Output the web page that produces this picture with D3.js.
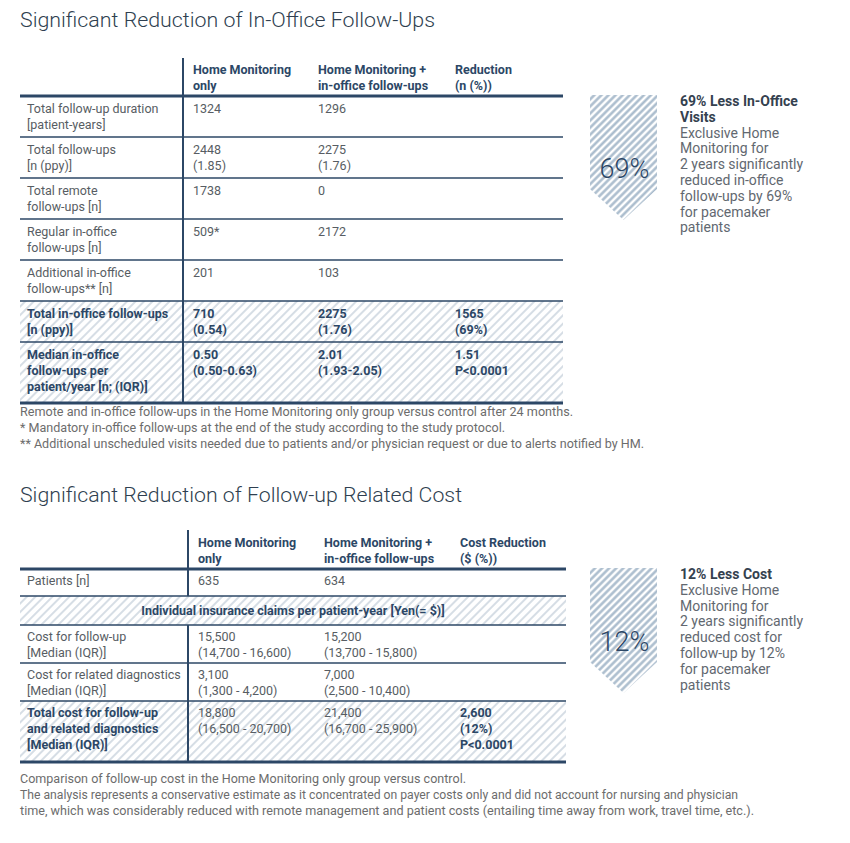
<!DOCTYPE html>
<html><head><meta charset="utf-8">
<script src="https://cdn.jsdelivr.net/npm/d3@7"></script>
<style>html,body{margin:0;padding:0;background:#fff;} svg{display:block;font-family:Roboto,"Noto Sans",sans-serif;}</style>
</head><body><svg id="c" width="850" height="843"></svg>
<script>
// ---------- DATA ----------
const title1 = "Significant Reduction of In-Office Follow-Ups";
const headers1 = ["Home Monitoring\nonly", "Home Monitoring +\nin-office follow-ups", "Reduction\n(n (%))"];
const rowLabels1 = [
  "Total follow-up duration\n[patient-years]",
  "Total follow-ups\n[n (ppy)]",
  "Total remote\nfollow-ups [n]",
  "Regular in-office\nfollow-ups [n]",
  "Additional in-office\nfollow-ups** [n]",
  "Total in-office follow-ups\n[n (ppy)]",
  "Median in-office\nfollow-ups per\npatient/year [n; (IQR)]"
];
const hmOnly1 = ["1324", "2448\n(1.85)", "1738", "509*", "201", "710\n(0.54)", "0.50\n(0.50-0.63)"];
const hmInOffice1 = ["1296", "2275\n(1.76)", "0", "2172", "103", "2275\n(1.76)", "2.01\n(1.93-2.05)"];
const reduction1 = ["", "", "", "", "", "1565\n(69%)", "1.51\nP<0.0001"];
const summaryRows1 = [5, 6];
const notes1 = [
  "Remote and in-office follow-ups in the Home Monitoring only group versus control after 24 months.",
  "* Mandatory in-office follow-ups at the end of the study according to the study protocol.",
  "** Additional unscheduled visits needed due to patients and/or physician request or due to alerts notified by HM."
];
const badge1 = "69%";
const blurbHead1 = ["69% Less In-Office", "Visits"];
const blurbBody1 = ["Exclusive Home", "Monitoring for", "2 years significantly", "reduced in-office", "follow-ups by 69%", "for pacemaker", "patients"];

const title2 = "Significant Reduction of Follow-up Related Cost";
const headers2 = ["Home Monitoring\nonly", "Home Monitoring +\nin-office follow-ups", "Cost Reduction\n($ (%))"];
const rowLabels2 = [
  "Patients [n]",
  "Individual insurance claims per patient-year [Yen(= $)]",
  "Cost for follow-up\n[Median (IQR)]",
  "Cost for related diagnostics\n[Median (IQR)]",
  "Total cost for follow-up\nand related diagnostics\n[Median (IQR)]"
];
const hmOnly2 = ["635", "", "15,500\n(14,700 - 16,600)", "3,100\n(1,300 - 4,200)", "18,800\n(16,500 - 20,700)"];
const hmInOffice2 = ["634", "", "15,200\n(13,700 - 15,800)", "7,000\n(2,500 - 10,400)", "21,400\n(16,700 - 25,900)"];
const reduction2 = ["", "", "", "", "2,600\n(12%)\nP<0.0001"];
const bandRows2 = [1];
const summaryRows2 = [4];
const notes2 = [
  "Comparison of follow-up cost in the Home Monitoring only group versus control.",
  "The analysis represents a conservative estimate as it concentrated on payer costs only and did not account for nursing and physician",
  "time, which was considerably reduced with remote management and patient costs (entailing time away from work, travel time, etc.)."
];
const badge2 = "12%";
const blurbHead2 = ["12% Less Cost"];
const blurbBody2 = ["Exclusive Home", "Monitoring for", "2 years significantly", "reduced cost for", "follow-up by 12%", "for pacemaker", "patients"];

// ---------- STYLE ----------
const NAVY = "#2c4766", TITLE = "#2f3f50", GRAY = "#575d63", NOTE = "#6c6c6c";
const svg = d3.select("#c");
svg.append("rect").attr("width", 850).attr("height", 843).attr("fill", "#fff");
const defs = svg.append("defs");
function hatch(id, size, w, color) {
  const p = defs.append("pattern").attr("id", id).attr("patternUnits", "userSpaceOnUse")
    .attr("width", size).attr("height", size).attr("patternTransform", "rotate(45)");
  p.append("rect").attr("width", size).attr("height", size).attr("fill", "#fff");
  p.append("line").attr("x1", size / 2).attr("x2", size / 2).attr("y1", -1).attr("y2", size + 1)
    .attr("stroke", color).attr("stroke-width", w);
}
hatch("rowHatch", 6, 1.3, "#c0ccd8");
hatch("badgeHatch", 5, 2.4, "#a6b9cb");

function multi(g, str, x, y, lh, attrs) {
  const t = g.append("text").attr("x", x).attr("y", y);
  Object.entries(attrs).forEach(([k, v]) => t.attr(k, v));
  str.split("\n").forEach((s, i) => t.append("tspan").attr("x", x).attr("dy", i ? lh : 0).text(s));
  return t;
}

function drawTable(cfg) {
  const g = svg.append("g");
  const n = cfg.labels.length;
  const tops = [cfg.headLineY];
  cfg.heights.forEach((h, i) => tops.push(tops[i] + h));
  const y = d3.scaleOrdinal().domain(d3.range(n + 1)).range(tops);
  const x = d3.scaleOrdinal().domain(["label", "c1", "c2", "c3"]).range(cfg.colX);

  d3.range(n).forEach(i => {
    if (cfg.summary.includes(i) || cfg.band.includes(i))
      g.append("rect").attr("x", cfg.x0).attr("y", y(i)).attr("width", cfg.x1 - cfg.x0)
        .attr("height", y(i + 1) - y(i)).attr("fill", "url(#rowHatch)");
  });
  cfg.headers.forEach((h, j) => multi(g, h, x(["c1", "c2", "c3"][j]), cfg.headBase, 16,
    {"font-size": 12.5, "font-weight": 700, fill: NAVY}));
  d3.range(n).forEach(i => {
    const base = y(i) + cfg.padTop[i];
    if (cfg.band.includes(i)) {
      g.append("text").attr("x", (cfg.x0 + cfg.x1) / 2).attr("y", base).attr("text-anchor", "middle")
        .attr("font-size", 12.5).attr("font-weight", 700).attr("fill", NAVY).text(cfg.labels[i]);
      return;
    }
    const sum = cfg.summary.includes(i);
    const bold = {"font-size": 12.5, "font-weight": 700, fill: NAVY};
    const reg = {"font-size": 12.5, "font-weight": 400, fill: GRAY};
    multi(g, cfg.labels[i], x("label"), base, 16, sum ? bold : reg);
    multi(g, cfg.c1[i], x("c1"), base, 16, sum && cfg.boldVals ? bold : reg);
    multi(g, cfg.c2[i], x("c2"), base, 16, sum && cfg.boldVals ? bold : reg);
    multi(g, cfg.c3[i], x("c3"), base, 16, sum ? bold : reg);
  });
  const segs = [];
  let start = cfg.divTop;
  d3.range(n).forEach(i => {
    if (cfg.band.includes(i)) { segs.push([start, y(i)]); start = y(i + 1); }
  });
  segs.push([start, y(n)]);
  segs.forEach(s => g.append("line").attr("x1", cfg.divX).attr("x2", cfg.divX).attr("y1", s[0]).attr("y2", s[1])
    .attr("stroke", NAVY).attr("stroke-width", 2));
  d3.range(n + 1).forEach(i => {
    const thick = i === 0 || i === n;
    g.append("line").attr("x1", cfg.x0).attr("x2", cfg.x1).attr("y1", y(i)).attr("y2", y(i))
      .attr("stroke", NAVY).attr("stroke-width", thick ? 3 : 1.7);
  });
}

function title(t, yb, w) {
  svg.append("text").attr("x", 20).attr("y", yb).attr("font-size", 20).attr("font-weight", 300)
    .attr("fill", TITLE).attr("textLength", w).attr("lengthAdjust", "spacingAndGlyphs").text(t);
}
function notes(arr, y0, widths) {
  arr.forEach((s, i) => svg.append("text").attr("x", 20).attr("y", y0 + i * 16).attr("font-size", 12)
    .attr("fill", NOTE).attr("textLength", widths[i]).attr("lengthAdjust", "spacingAndGlyphs").text(s));
}
function badge(top, label, head, body) {
  const l = 590, r = 657, cx = (l + r) / 2;
  const pts = [[l, top], [r, top], [r, top + 94], [cx, top + 125], [l, top + 94]];
  svg.append("path").attr("d", d3.line()(pts) + "Z").attr("fill", "url(#badgeHatch)");
  svg.append("text").attr("x", cx + 1).attr("y", top + 83).attr("text-anchor", "middle")
    .attr("font-size", 27).attr("font-weight", 300).attr("fill", NAVY).text(label);
  const lines = head.map(s => ({s, b: true})).concat(body.map(s => ({s, b: false})));
  lines.forEach((d, i) => svg.append("text").attr("x", 680).attr("y", top + 11 + i * 15.8)
    .attr("font-size", 14).attr("font-weight", d.b ? 700 : 400).attr("fill", d.b ? "#34414f" : "#626870").text(d.s));
}

// ---------- TOP SECTION ----------
title(title1, 27, 415);
drawTable({
  x0: 20, x1: 563, divX: 183, colX: [27, 193, 318, 455], headBase: 74, headLineY: 96, divTop: 58,
  headers: headers1, labels: rowLabels1, c1: hmOnly1, c2: hmInOffice1, c3: reduction1,
  summary: summaryRows1, band: [], boldVals: true,
  heights: rowLabels1.map(s => [0, 27, 41, 61][s.split("\n").length]),
  padTop: rowLabels1.map(() => 17)
});
notes(notes1, 416, [553, 485, 624]);
badge(95, badge1, blurbHead1, blurbBody1);

// ---------- BOTTOM SECTION ----------
title(title2, 502, 442);
drawTable({
  x0: 20, x1: 566, divX: 188, colX: [27, 198, 324, 460], headBase: 547, headLineY: 569, divTop: 530,
  headers: headers2, labels: rowLabels2, c1: hmOnly2, c2: hmInOffice2, c3: reduction2,
  summary: summaryRows2, band: bandRows2, boldVals: false,
  heights: rowLabels2.map((s, i) => bandRows2.includes(i) ? 29 : [0, 27, 38, 61][s.split("\n").length]),
  padTop: rowLabels2.map((s, i) => bandRows2.includes(i) ? 19 : 16)
});
notes(notes2, 783, [446, 718, 734]);
badge(568, badge2, blurbHead2, blurbBody2);
</script></body></html>
